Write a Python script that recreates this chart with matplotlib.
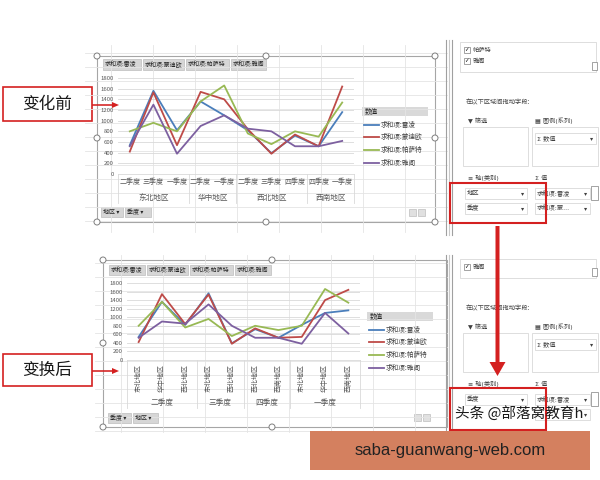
import pandas as pd
import matplotlib.pyplot as plt
from matplotlib.patches import Rectangle, Circle, FancyArrow
from matplotlib.transforms import blended_transform_factory

plt.rcParams['font.family'] = ['Noto Sans CJK SC', 'DejaVu Sans']

# data (region / quarter -> sum per car model)
regions = ['东北地区', '东北地区', '东北地区', '华中地区', '华中地区',
           '西北地区', '西北地区', '西北地区', '西南地区', '西南地区']
quarters = ['二季度', '三季度', '一季度', '二季度', '一季度',
            '二季度', '三季度', '四季度', '四季度', '一季度']
leiling = [540, 1560, 820, 1360, 1100, 820, 390, 720, 520, 1160]
mondeo = [420, 1530, 540, 1540, 1400, 840, 380, 740, 520, 1640]
passat = [800, 960, 800, 1360, 1660, 760, 560, 800, 700, 1340]
accord = [520, 1300, 380, 900, 1100, 850, 800, 520, 520, 620]

series_names = ['求和项:雷凌', '求和项:蒙迪欧', '求和项:帕萨特', '求和项:雅阁']
series_colors = ['#4a7ebb', '#be4b48', '#98b954', '#7d60a0']
region_order = ['东北地区', '华中地区', '西北地区', '西南地区']
quarter_order = ['二季度', '三季度', '四季度', '一季度']

df = pd.DataFrame({'地区': regions, '季度': quarters,
                   series_names[0]: leiling, series_names[1]: mondeo,
                   series_names[2]: passat, series_names[3]: accord})
df['地区'] = pd.Categorical(df['地区'], region_order, ordered=True)
df['季度'] = pd.Categorical(df['季度'], quarter_order, ordered=True)
before = df.sort_values(['地区', '季度']).reset_index(drop=True)
after = df.sort_values(['季度', '地区']).reset_index(drop=True)

fig = plt.figure(figsize=(6, 4.8), dpi=100)

# pixel-space background layer
bg = fig.add_axes([0, 0, 1, 1])
bg.set_xlim(0, 600)
bg.set_ylim(480, 0)
bg.axis('off')

GRID = '#e4e4e4'
# spreadsheet cells behind the charts
for x0, y0, x1, y1 in [(85, 45, 447, 232), (95, 255, 447, 432)]:
    bg.add_patch(Rectangle((x0, y0), x1 - x0, y1 - y0, fc='white', ec='none'))
    x = x0 + 26
    while x < x1:
        bg.plot([x, x], [y0, y1], color=GRID, lw=0.6)
        x += 42
    y = y0 + 8
    while y < y1:
        bg.plot([x0, x1], [y, y], color=GRID, lw=0.6)
        y += 14

# chart areas
bg.add_patch(Rectangle((97, 56), 338, 166, fc='white', ec='#a6a6a6', lw=0.8))
bg.add_patch(Rectangle((103, 260), 344, 167, fc='white', ec='#a6a6a6', lw=0.8))
for cx, cy in [(97, 56), (266, 56), (435, 56), (97, 138), (435, 138),
               (97, 222), (266, 222), (435, 222),
               (103, 260), (272, 260), (103, 343), (103, 427), (272, 427)]:
    bg.add_patch(Circle((cx, cy), 3, fc='white', ec='#7f7f7f', lw=0.7, zorder=3))


def button(x0, y0, w, h, text, size=4.3):
    bg.add_patch(Rectangle((x0, y0), w, h, fc='#d6d6d6', ec='#bdbdbd', lw=0.5))
    bg.text(x0 + 2, y0 + h / 2, text, fontsize=size, va='center', ha='left', color='#262626')


# field buttons
for x0, w, name in zip([103, 143, 186, 231], [38, 41, 43, 35], series_names):
    button(x0, 59, w, 11, name)
for x0, w, name in zip([109, 147, 190, 235], [36, 41, 43, 36], series_names):
    button(x0, 265, w, 10, name)
button(101, 207, 22, 10, '地区 ▾')
button(125, 207, 26, 10, '季度 ▾')
button(108, 413, 23, 10, '季度 ▾')
button(133, 413, 25, 10, '地区 ▾')
for x0, y0 in [(409, 209), (418, 209), (414, 414), (423, 414)]:
    bg.add_patch(Rectangle((x0, y0), 7, 7, fc='#e0e0e0', ec='#bdbdbd', lw=0.5))


def legend(x0, y0, step):
    bg.add_patch(Rectangle((x0, y0 - 5), 66, 9, fc='#d9d9d9', ec='none'))
    bg.text(x0 + 3, y0, '数值', fontsize=4.8, va='center', color='#262626')
    for i, (name, col) in enumerate(zip(series_names, series_colors)):
        yy = y0 + step * (i + 1)
        bg.plot([x0 + 2, x0 + 17], [yy, yy], color=col, lw=1.3)
        bg.text(x0 + 19, yy, name, fontsize=4.8, va='center', color='#404040')


legend(362, 112, 12.7)
legend(367, 317, 12.7)


def pivot_chart(rect, data, group_col, label_col, rotate, lab_y, grp_y, sep_y):
    ax = fig.add_axes(rect)
    ax.set_facecolor('none')
    pos = range(len(data))
    for name, col in zip(series_names, series_colors):
        ax.plot(pos, data[name], color=col, lw=1.3)
    ax.set_xlim(-0.5, len(data) - 0.5)
    ax.set_ylim(0, 1800)
    ax.set_yticks(range(0, 1801, 200))
    ax.grid(axis='y', color='#d9d9d9', lw=0.6)
    ax.set_axisbelow(True)
    for s in ax.spines.values():
        s.set_visible(False)
    ax.tick_params(axis='y', length=0, labelsize=4.3, labelcolor='#595959', pad=3)
    ax.set_xticks(list(pos))
    if rotate:
        ax.set_xticklabels(list(data[label_col]), rotation=90, va='top')
    else:
        ax.set_xticklabels(list(data[label_col]))
    ax.tick_params(axis='x', length=0, labelsize=5, labelcolor='#595959', pad=lab_y)
    tr = blended_transform_factory(ax.transData, ax.transAxes)
    groups = data[group_col].astype(str).tolist()
    bounds = [-0.5]
    for i in range(1, len(groups)):
        if groups[i] != groups[i - 1]:
            bounds.append(i - 0.5)
    bounds.append(len(groups) - 0.5)
    for b in bounds:
        ax.plot([b, b], [0, sep_y], transform=tr, clip_on=False, color='#d9d9d9', lw=0.6)
    ax.plot([-0.5, len(groups) - 0.5], [0, 0], transform=tr, clip_on=False,
            color='#d9d9d9', lw=0.6)
    for a, b in zip(bounds[:-1], bounds[1:]):
        ax.text((a + b) / 2, grp_y, groups[int(a + 0.5)], transform=tr,
                ha='center', va='center', fontsize=5.5, color='#595959')
    return ax


pivot_chart([118 / 600, 1 - 174 / 480, 236 / 600, 96 / 480], before,
            '地区', '季度', False, 3, -0.25, -0.3)
pivot_chart([127 / 600, 1 - 360 / 480, 233 / 600, 77 / 480], after,
            '季度', '地区', True, 3, -0.56, -0.62)

# field list pane on the right
RED = '#d42020'
MIXED = ['DejaVu Sans', 'Noto Sans CJK SC']
for y0, y1 in [(40, 235), (255, 432)]:
    bg.add_patch(Rectangle((450, y0), 150, y1 - y0, fc='white', ec='none'))
    bg.plot([446, 446], [y0, y1], color='#a0a0a0', lw=0.8)
    bg.plot([449, 449], [y0, y1], color='#c8c8c8', lw=0.8)
    bg.plot([452, 452], [y0, y1], color='#a0a0a0', lw=0.8)


def button_field(x0, y0, w, text):
    bg.add_patch(Rectangle((x0, y0), w, 11, fc='white', ec='#d0d0d0', lw=0.5))
    if text:
        bg.text(x0 + 2, y0 + 5.5, text, fontsize=4.5, va='center', color='#404040', family=MIXED)
    bg.text(x0 + w - 3, y0 + 5.5, '▾', fontsize=4.5, va='center', ha='right', color='#404040',
            family='DejaVu Sans')


def pane(top, h, items, axis_fields, value_second):
    y = top
    for it in items:
        bg.add_patch(Rectangle((464, y - 3), 6, 6, fc='white', ec='#7f7f7f', lw=0.5))
        bg.text(466.5, y, '✓', fontsize=4, ha='center', va='center', family='DejaVu Sans')
        bg.text(473, y, it, fontsize=4.5, va='center', color='#404040')
        y += 11
    bg.add_patch(Rectangle((460, top - 8), 136, y - top + 8, fc='none', ec='#d0d0d0', lw=0.5))
    bg.add_patch(Rectangle((592, y - 10), 5, 8, fc='white', ec='#7f7f7f', lw=0.5))
    bg.text(466, h, '在以下区域间拖动字段:', fontsize=4.5, va='center', color='#404040')
    bg.text(468, h + 19, '▼ 筛选', fontsize=4.5, va='center', color='#404040', family=MIXED)
    bg.text(535, h + 19, '▦ 图例(系列)', fontsize=4.5, va='center', color='#404040', family=MIXED)
    bg.add_patch(Rectangle((463, h + 25), 65, 39, fc='white', ec='#d0d0d0', lw=0.5))
    bg.add_patch(Rectangle((532, h + 25), 66, 39, fc='white', ec='#d0d0d0', lw=0.5))
    button_field(535, h + 31, 61, 'Σ 数值')
    bg.text(468, h + 76, '≡ 轴(类别)', fontsize=4.5, va='center', color='#404040', family=MIXED)
    bg.text(535, h + 76, 'Σ 值', fontsize=4.5, va='center', color='#404040', family=MIXED)
    button_field(465, h + 86, 62, axis_fields[0])
    if len(axis_fields) > 1:
        button_field(465, h + 101, 62, axis_fields[1])
    button_field(535, h + 86, 55, '求和项:雷凌')
    button_field(535, h + 101, 55, value_second)
    bg.add_patch(Rectangle((591, h + 84), 7, 14, fc='white', ec='#7f7f7f', lw=0.5))


pane(50, 102, ['帕萨特', '雅阁'], ['地区', '季度'], '求和项:蒙...')
pane(267, 308, ['雅阁'], ['季度'], '')

bg.add_patch(Rectangle((450, 183), 96, 40, fc='none', ec=RED, lw=1.5, zorder=5))
bg.add_patch(Rectangle((450, 388), 96, 42, fc='none', ec=RED, lw=1.5, zorder=5))
bg.add_patch(FancyArrow(497.5, 226, 0, 150, width=4, head_width=16, head_length=14,
                        length_includes_head=True, fc=RED, ec='none', zorder=6))

# left annotation boxes
for y0, y1, txt in [(87, 121, '变化前'), (354, 386, '变换后')]:
    bg.add_patch(Rectangle((3, y0), 89, y1 - y0, fc='white', ec=RED, lw=1.2))
    bg.text(47, (y0 + y1) / 2, txt, fontsize=12, ha='center', va='center', color='#1a1a1a')
    ym = (y0 + y1) / 2 + 1
    bg.add_patch(FancyArrow(92, ym, 27, 0, width=1.6, head_width=6, head_length=7,
                            length_includes_head=True, fc=RED, ec='none', zorder=6))

# watermark and site banner
bg.text(455, 413, '头条 @部落窝教育h', fontsize=10.5, va='center', color='#1a1a1a', zorder=7)
bg.add_patch(Rectangle((310, 431), 280, 39, fc='#d4805f', ec='none', zorder=7))
bg.text(450, 450.5, 'saba-guanwang-web.com', fontsize=12, ha='center', va='center',
        color='#222222', family='Liberation Sans', zorder=8)

plt.savefig('out.png', dpi=100)
